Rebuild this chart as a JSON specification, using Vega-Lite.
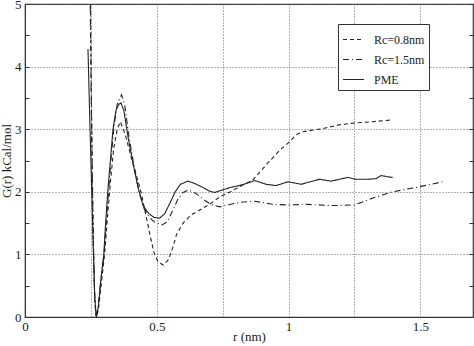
{
  "$schema": "https://vega.github.io/schema/vega-lite/v6.json",
  "width": 448,
  "height": 313,
  "autosize": "none",
  "padding": {"left": 25, "top": 4, "right": 1, "bottom": 29},
  "config": {
    "font": "Liberation Serif",
    "view": {"stroke": "#333", "strokeWidth": 1.2},
    "axis": {"labelFont": "Liberation Serif", "titleFont": "Liberation Serif", "labelFontSize": 13, "titleFontSize": 13, "titleFontWeight": "normal", "labelColor": "#222", "titleColor": "#222", "domainColor": "#333", "tickColor": "#333"}
  },
  "data": {"values": [
    {"s":"PME","r":0.239,"g":4.28},{"s":"PME","r":0.245,"g":3.3},{"s":"PME","r":0.252,"g":2.2},{"s":"PME","r":0.259,"g":1.1},{"s":"PME","r":0.265,"g":0.3},{"s":"PME","r":0.271,"g":0.0},{"s":"PME","r":0.278,"g":0.15},{"s":"PME","r":0.288,"g":0.6},{"s":"PME","r":0.299,"g":1.0},{"s":"PME","r":0.306,"g":1.5},{"s":"PME","r":0.314,"g":2.0},{"s":"PME","r":0.324,"g":2.5},{"s":"PME","r":0.334,"g":3.0},{"s":"PME","r":0.345,"g":3.3},{"s":"PME","r":0.356,"g":3.4},{"s":"PME","r":0.364,"g":3.42},{"s":"PME","r":0.375,"g":3.3},{"s":"PME","r":0.39,"g":2.9},{"s":"PME","r":0.41,"g":2.45},{"s":"PME","r":0.43,"g":2.05},{"s":"PME","r":0.448,"g":1.78},{"s":"PME","r":0.47,"g":1.65},{"s":"PME","r":0.49,"g":1.59},{"s":"PME","r":0.511,"g":1.58},{"s":"PME","r":0.53,"g":1.65},{"s":"PME","r":0.55,"g":1.82},{"s":"PME","r":0.57,"g":2.0},{"s":"PME","r":0.59,"g":2.12},{"s":"PME","r":0.618,"g":2.17},{"s":"PME","r":0.64,"g":2.14},{"s":"PME","r":0.67,"g":2.08},{"s":"PME","r":0.7,"g":2.01},{"s":"PME","r":0.72,"g":1.99},{"s":"PME","r":0.75,"g":2.03},{"s":"PME","r":0.78,"g":2.07},{"s":"PME","r":0.814,"g":2.1},{"s":"PME","r":0.845,"g":2.14},{"s":"PME","r":0.871,"g":2.18},{"s":"PME","r":0.915,"g":2.12},{"s":"PME","r":0.953,"g":2.1},{"s":"PME","r":0.998,"g":2.16},{"s":"PME","r":1.048,"g":2.12},{"s":"PME","r":1.117,"g":2.2},{"s":"PME","r":1.162,"g":2.17},{"s":"PME","r":1.225,"g":2.23},{"s":"PME","r":1.256,"g":2.2},{"s":"PME","r":1.3,"g":2.2},{"s":"PME","r":1.332,"g":2.21},{"s":"PME","r":1.351,"g":2.26},{"s":"PME","r":1.376,"g":2.24},{"s":"PME","r":1.395,"g":2.23},
    {"s":"Rc=0.8nm","r":0.246,"g":6.0},{"s":"Rc=0.8nm","r":0.252,"g":3.5},{"s":"Rc=0.8nm","r":0.258,"g":1.5},{"s":"Rc=0.8nm","r":0.264,"g":0.3},{"s":"Rc=0.8nm","r":0.27,"g":0.0},{"s":"Rc=0.8nm","r":0.278,"g":0.1},{"s":"Rc=0.8nm","r":0.29,"g":0.55},{"s":"Rc=0.8nm","r":0.302,"g":1.0},{"s":"Rc=0.8nm","r":0.313,"g":1.6},{"s":"Rc=0.8nm","r":0.325,"g":2.2},{"s":"Rc=0.8nm","r":0.337,"g":2.7},{"s":"Rc=0.8nm","r":0.35,"g":3.0},{"s":"Rc=0.8nm","r":0.362,"g":3.12},{"s":"Rc=0.8nm","r":0.38,"g":2.92},{"s":"Rc=0.8nm","r":0.4,"g":2.6},{"s":"Rc=0.8nm","r":0.42,"g":2.3},{"s":"Rc=0.8nm","r":0.44,"g":2.0},{"s":"Rc=0.8nm","r":0.46,"g":1.6},{"s":"Rc=0.8nm","r":0.475,"g":1.3},{"s":"Rc=0.8nm","r":0.49,"g":1.02},{"s":"Rc=0.8nm","r":0.505,"g":0.88},{"s":"Rc=0.8nm","r":0.525,"g":0.83},{"s":"Rc=0.8nm","r":0.545,"g":0.92},{"s":"Rc=0.8nm","r":0.56,"g":1.1},{"s":"Rc=0.8nm","r":0.575,"g":1.32},{"s":"Rc=0.8nm","r":0.6,"g":1.5},{"s":"Rc=0.8nm","r":0.63,"g":1.63},{"s":"Rc=0.8nm","r":0.66,"g":1.7},{"s":"Rc=0.8nm","r":0.7,"g":1.8},{"s":"Rc=0.8nm","r":0.74,"g":1.92},{"s":"Rc=0.8nm","r":0.78,"g":2.0},{"s":"Rc=0.8nm","r":0.814,"g":2.08},{"s":"Rc=0.8nm","r":0.865,"g":2.19},{"s":"Rc=0.8nm","r":0.915,"g":2.43},{"s":"Rc=0.8nm","r":0.966,"g":2.66},{"s":"Rc=0.8nm","r":1.004,"g":2.8},{"s":"Rc=0.8nm","r":1.029,"g":2.91},{"s":"Rc=0.8nm","r":1.054,"g":2.96},{"s":"Rc=0.8nm","r":1.13,"g":3.01},{"s":"Rc=0.8nm","r":1.193,"g":3.07},{"s":"Rc=0.8nm","r":1.25,"g":3.1},{"s":"Rc=0.8nm","r":1.32,"g":3.12},{"s":"Rc=0.8nm","r":1.395,"g":3.15},
    {"s":"Rc=1.5nm","r":0.245,"g":6.0},{"s":"Rc=1.5nm","r":0.251,"g":3.6},{"s":"Rc=1.5nm","r":0.257,"g":1.8},{"s":"Rc=1.5nm","r":0.263,"g":0.5},{"s":"Rc=1.5nm","r":0.269,"g":0.0},{"s":"Rc=1.5nm","r":0.277,"g":0.15},{"s":"Rc=1.5nm","r":0.288,"g":0.6},{"s":"Rc=1.5nm","r":0.3,"g":1.0},{"s":"Rc=1.5nm","r":0.308,"g":1.5},{"s":"Rc=1.5nm","r":0.317,"g":2.0},{"s":"Rc=1.5nm","r":0.327,"g":2.55},{"s":"Rc=1.5nm","r":0.338,"g":3.05},{"s":"Rc=1.5nm","r":0.35,"g":3.4},{"s":"Rc=1.5nm","r":0.366,"g":3.55},{"s":"Rc=1.5nm","r":0.378,"g":3.4},{"s":"Rc=1.5nm","r":0.392,"g":2.95},{"s":"Rc=1.5nm","r":0.41,"g":2.5},{"s":"Rc=1.5nm","r":0.43,"g":2.05},{"s":"Rc=1.5nm","r":0.45,"g":1.75},{"s":"Rc=1.5nm","r":0.47,"g":1.6},{"s":"Rc=1.5nm","r":0.49,"g":1.52},{"s":"Rc=1.5nm","r":0.52,"g":1.47},{"s":"Rc=1.5nm","r":0.54,"g":1.52},{"s":"Rc=1.5nm","r":0.56,"g":1.7},{"s":"Rc=1.5nm","r":0.58,"g":1.88},{"s":"Rc=1.5nm","r":0.6,"g":1.99},{"s":"Rc=1.5nm","r":0.62,"g":2.03},{"s":"Rc=1.5nm","r":0.65,"g":1.97},{"s":"Rc=1.5nm","r":0.68,"g":1.87},{"s":"Rc=1.5nm","r":0.71,"g":1.79},{"s":"Rc=1.5nm","r":0.74,"g":1.76},{"s":"Rc=1.5nm","r":0.78,"g":1.8},{"s":"Rc=1.5nm","r":0.814,"g":1.83},{"s":"Rc=1.5nm","r":0.871,"g":1.85},{"s":"Rc=1.5nm","r":0.94,"g":1.8},{"s":"Rc=1.5nm","r":0.998,"g":1.79},{"s":"Rc=1.5nm","r":1.067,"g":1.8},{"s":"Rc=1.5nm","r":1.168,"g":1.78},{"s":"Rc=1.5nm","r":1.25,"g":1.79},{"s":"Rc=1.5nm","r":1.32,"g":1.9},{"s":"Rc=1.5nm","r":1.395,"g":2.0},{"s":"Rc=1.5nm","r":1.496,"g":2.08},{"s":"Rc=1.5nm","r":1.585,"g":2.16}
  ]},
  "layer": [
    {
      "mark": {"type": "line", "clip": true, "color": "#222", "strokeWidth": 1.1},
      "encoding": {
        "x": {"field": "r", "type": "quantitative", "scale": {"domain": [0, 1.7], "nice": false, "zero": false},
          "axis": {"title": "r (nm)", "format": "~g", "values": [0, 0.25, 0.5, 0.75, 1, 1.25, 1.5], "labelExpr": "datum.value % 0.5 == 0 ? datum.label : ''", "ticks": false, "labelPadding": 3, "titlePadding": -3, "grid": true, "gridDash": [1, 2], "gridColor": "#666", "labelFlush": false}},
        "y": {"field": "g", "type": "quantitative", "scale": {"domain": [0, 5], "nice": false},
          "axis": {"title": "G(r) kCal/mol", "format": "~g", "values": [0, 0.5, 1, 1.5, 2, 2.5, 3, 3.5, 4, 4.5, 5], "labelExpr": "datum.value % 1 == 0 ? datum.label : ''", "tickSize": -4, "labelPadding": 8, "titlePadding": 1, "grid": true, "gridDash": [1, 2], "gridColor": "#666", "gridOpacity": {"condition": {"test": "datum.value % 1 == 0", "value": 1}, "value": 0}, "labelFlush": false}},
        "strokeDash": {"field": "s", "type": "nominal", "scale": {"domain": ["Rc=0.8nm", "Rc=1.5nm", "PME"], "range": [[4, 3], [6, 3, 1, 3], [1, 0]]},
          "legend": {"title": null, "orient": "none", "legendX": 313, "legendY": 20, "symbolType": "stroke", "symbolSize": 440, "symbolStrokeWidth": 1.1, "symbolStrokeColor": "#222", "labelFontSize": 12, "labelFont": "Liberation Serif", "labelColor": "#222", "strokeColor": "#333", "fillColor": "white", "padding": 4, "rowPadding": 2, "labelOffset": 9}}
      }
    },
    {
      "mark": {"type": "line", "clip": true, "strokeOpacity": 0},
      "encoding": {
        "x": {"field": "r", "type": "quantitative"},
        "y": {"field": "g", "type": "quantitative",
          "axis": {"orient": "right", "title": null, "values": [0, 0.5, 1, 1.5, 2, 2.5, 3, 3.5, 4, 4.5, 5], "labels": false, "tickSize": -4, "grid": false, "domain": false}},
        "detail": {"field": "s", "type": "nominal"}
      }
    }
  ],
  "resolve": {"axis": {"y": "independent"}}
}
